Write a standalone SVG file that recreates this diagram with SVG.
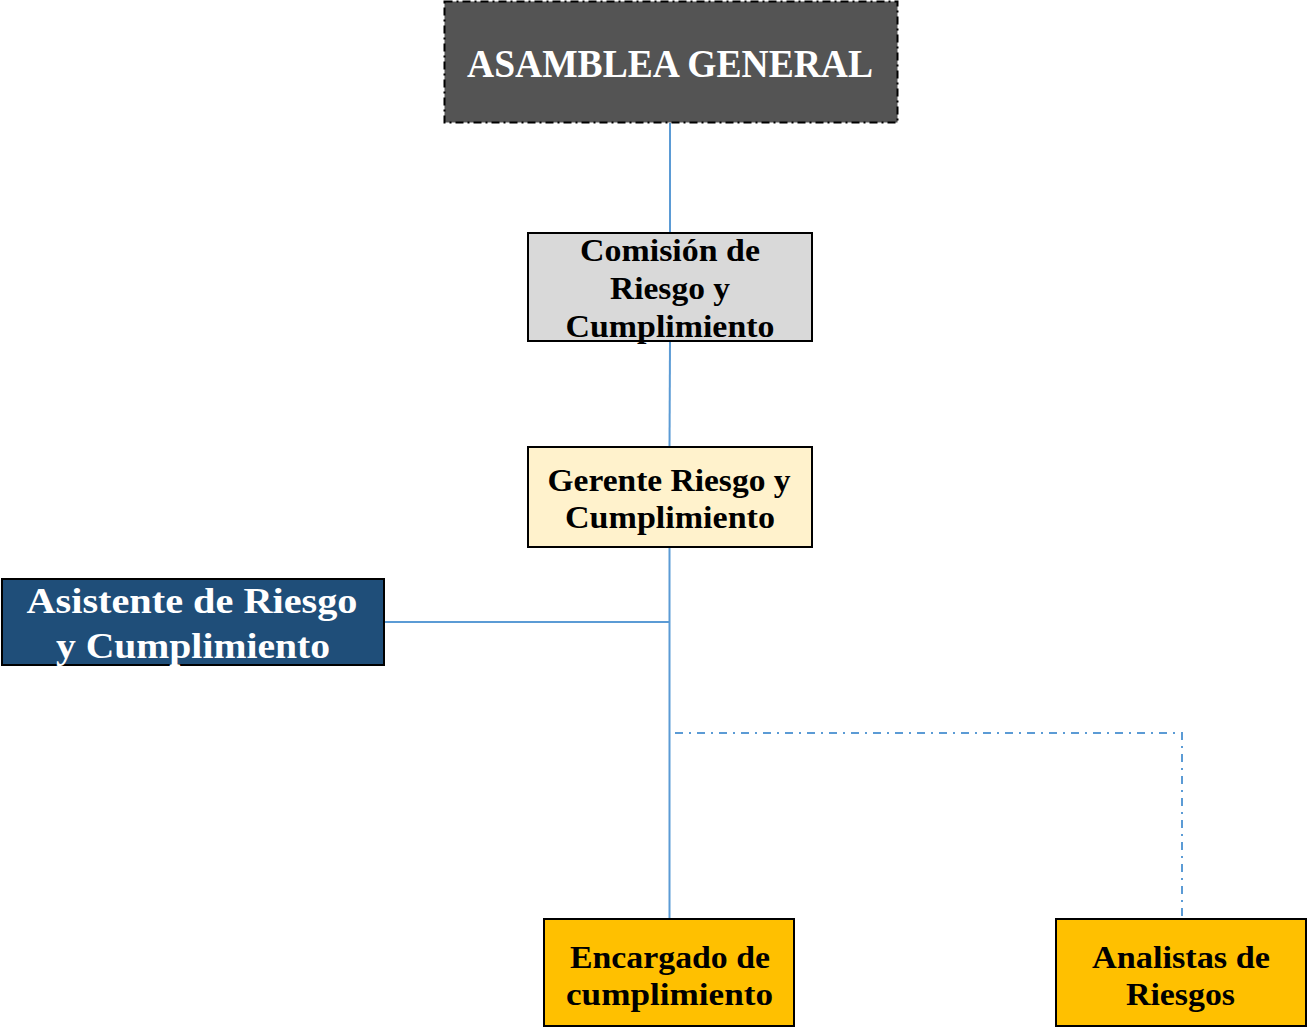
<svg xmlns="http://www.w3.org/2000/svg" width="1308" height="1027" viewBox="0 0 1308 1027">
<style>
.t{font-family:"Liberation Serif","DejaVu Serif",serif;font-weight:bold;text-anchor:middle}
.dk{fill:#000000;font-size:31px}
.wh{fill:#ffffff}
.box{stroke:#000000;stroke-width:2}
.ln{stroke:#5b9bd5;stroke-width:2;fill:none}
</style>
<rect width="1308" height="1027" fill="#ffffff"/>
<g id="connectors">
<line class="ln" x1="670" y1="123" x2="670" y2="233"/>
<line class="ln" x1="670" y1="341" x2="669.5" y2="447"/>
<line class="ln" x1="669.5" y1="547" x2="669.5" y2="919"/>
<line class="ln" x1="384" y1="622" x2="669.5" y2="622"/>
<polyline class="ln" points="675,733 1182,733 1182,919" stroke-dasharray="8,6,2,6" stroke-width="1.5"/>
</g>
<g id="asamblea">
<rect x="444.5" y="1.5" width="453" height="121" fill="#545454" stroke="#000000" stroke-width="2" stroke-dasharray="8,4,2,4"/>
<text class="t wh" x="670" y="77" font-size="39" textLength="406" lengthAdjust="spacingAndGlyphs">ASAMBLEA GENERAL</text>
</g>
<g id="comision">
<rect class="box" x="528" y="233" width="284" height="108" fill="#d9d9d9"/>
<text class="t dk" x="670" y="261" textLength="180" lengthAdjust="spacingAndGlyphs">Comisión de</text>
<text class="t dk" x="670" y="299" textLength="120" lengthAdjust="spacingAndGlyphs">Riesgo y</text>
<text class="t dk" x="670" y="337" textLength="209" lengthAdjust="spacingAndGlyphs">Cumplimiento</text>
</g>
<g id="gerente">
<rect class="box" x="528" y="447" width="284" height="100" fill="#fff2cc"/>
<text class="t dk" x="669" y="491" textLength="243" lengthAdjust="spacingAndGlyphs">Gerente Riesgo y</text>
<text class="t dk" x="670" y="528" textLength="210" lengthAdjust="spacingAndGlyphs">Cumplimiento</text>
</g>
<g id="asistente">
<rect class="box" x="2" y="579" width="382" height="86" fill="#1f4e79"/>
<text class="t wh" x="192" y="613" font-size="36" textLength="331" lengthAdjust="spacingAndGlyphs">Asistente de Riesgo</text>
<text class="t wh" x="193" y="658" font-size="36" textLength="274" lengthAdjust="spacingAndGlyphs">y Cumplimiento</text>
</g>
<g id="encargado">
<rect class="box" x="544" y="919" width="250" height="107" fill="#ffc000"/>
<text class="t dk" x="670" y="968" textLength="200" lengthAdjust="spacingAndGlyphs">Encargado de</text>
<text class="t dk" x="669.5" y="1005" textLength="207" lengthAdjust="spacingAndGlyphs">cumplimiento</text>
</g>
<g id="analistas">
<rect class="box" x="1056" y="919" width="250" height="107" fill="#ffc000"/>
<text class="t dk" x="1181" y="968" textLength="178" lengthAdjust="spacingAndGlyphs">Analistas de</text>
<text class="t dk" x="1180.5" y="1005" textLength="109" lengthAdjust="spacingAndGlyphs">Riesgos</text>
</g>
</svg>
